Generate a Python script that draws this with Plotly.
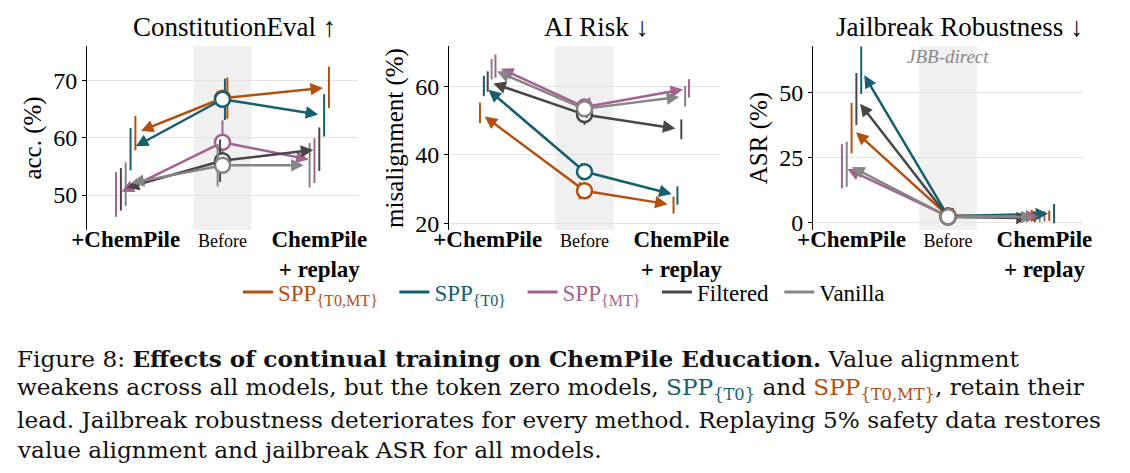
import numpy as np
import plotly.graph_objects as go

# stages on the x axis
stages = ["+ChemPile", "Before", "ChemPile + replay"]
methods = ["SPP{T0,MT}", "SPP{T0}", "SPP{MT}", "Filtered", "Vanilla"]

# ConstitutionEval (acc. %)
ce_chem = [60.8, 58.0, 50.1, 51.0, 51.9]
ce_before = [66.9, 66.7, 59.2, 56.0, 55.2]
ce_replay = [68.8, 63.9, 56.0, 58.0, 55.2]
ce_chem_err = [3.0, 3.7, 3.9, 3.7, 3.8]
ce_before_err = [3.6, 3.6, 3.8, 3.7, 3.7]
ce_replay_err = [3.6, 3.7, 3.9, 3.8, 3.9]

# AI Risk (misalignment %)
ai_chem = [52.3, 60.2, 66.0, 61.5, 65.1]
ai_before = [29.5, 35.1, 54.0, 51.8, 53.5]
ai_replay = [25.3, 28.1, 59.5, 47.5, 57.2]
ai_chem_err = [3.0, 3.0, 3.4, 3.0, 3.0]
ai_before_err = [2.5, 2.5, 2.8, 3.0, 2.8]
ai_replay_err = [2.5, 2.7, 2.7, 2.9, 3.0]

# Jailbreak robustness (ASR %)
jb_chem = [36.2, 58.5, 21.5, 47.4, 22.3]
jb_before = [2.5, 2.3, 2.2, 2.0, 2.1]
jb_replay = [2.5, 3.3, 2.3, 1.5, 2.0]
jb_chem_err = [9.7, 9.1, 8.5, 10.0, 8.7]
jb_before_err = [3.0, 2.0, 2.0, 2.0, 2.0]
jb_replay_err = [2.0, 3.7, 2.0, 1.5, 2.0]

colors = ["#b4500f", "#155f6e", "#a3638f", "#474747", "#858585"]
NB = "\u00a0"
legend_names = [
    "<span style='color:#b4500f'>SPP<sub>{T0,MT}</sub></span>" + NB * 2,
    "<span style='color:#155f6e'>SPP<sub>{T0}</sub></span>" + NB * 2,
    "<span style='color:#a3638f'>SPP<sub>{MT}</sub></span>" + NB * 2,
    "Filtered" + NB,
    "Vanilla",
]

panels = [
    dict(title="ConstitutionEval ↑", ytitle="acc. (%)", yrange=[43.9, 76.0], ticks=[50, 60, 70],
         chem=ce_chem, before=ce_before, replay=ce_replay,
         errs=(ce_chem_err, ce_before_err, ce_replay_err), step=0.05),
    dict(title="AI Risk ↓", ytitle="misalignment (%)", yrange=[18.0, 71.9], ticks=[20, 40, 60],
         chem=ai_chem, before=ai_before, replay=ai_replay,
         errs=(ai_chem_err, ai_before_err, ai_replay_err), step=0.04),
    dict(title="Jailbreak Robustness ↓", ytitle="ASR (%)", yrange=[-3.0, 67.8], ticks=[0, 25, 50],
         chem=jb_chem, before=jb_before, replay=jb_replay,
         errs=(jb_chem_err, jb_before_err, jb_replay_err), step=0.05),
]

W, H = 1130, 473
OFF = 8  # page body margin, the figure is drawn 8px right/down
FONT = "Liberation Serif"
x_domains = [(87, 358), (449, 720), (813, 1083)]
y_dom = [1 - (230 - OFF) / H, 1 - (46 - OFF) / H]
stage_pos = np.arange(len(stages))


def px_x(v):
    return (v - OFF) / W


def px_y(v):
    return 1 - (v - OFF) / H


def dodge(vals, step):
    # spread endpoints sideways, ordered by value
    r = np.argsort(np.argsort(vals))
    return (r - (len(vals) - 1) / 2) * step


fig = go.Figure()

for p, pan in enumerate(panels):
    sfx = "" if p == 0 else str(p + 1)
    xr, yr = "x" + sfx, "y" + sfx
    off_c = dodge(pan["chem"], pan["step"])
    off_b = dodge(pan["before"], 0.025)
    off_r = dodge(pan["replay"], pan["step"])

    # shaded "Before" band
    fig.add_shape(type="rect", xref=xr, yref=yr + " domain", x0=stage_pos[1] - 0.3, x1=stage_pos[1] + 0.3,
                  y0=0, y1=1, fillcolor="#f0f0f0", line_width=0, layer="below")

    for i, m in enumerate(methods):
        c = colors[i]
        xs = [stage_pos[0] + off_c[i], stage_pos[1] + off_b[i], stage_pos[2] + off_r[i]]
        ys = [pan["chem"][i], pan["before"][i], pan["replay"][i]]
        es = [pan["errs"][0][i], pan["errs"][1][i], pan["errs"][2][i]]
        fig.add_trace(go.Scatter(
            x=xs, y=ys, mode="markers", xaxis=xr, yaxis=yr, showlegend=False,
            marker=dict(size=1, opacity=0, color=c),
            error_y=dict(type="data", array=es, color=c, thickness=2, width=0),
            hoverinfo="skip"))

        # arrows from "Before" to the two continual-training results
        for k in (0, 2):
            fig.add_annotation(
                x=xs[k], y=ys[k], ax=stage_pos[1], ay=ys[1],
                xref=xr, yref=yr, axref=xr, ayref=yr, text="", showarrow=True,
                arrowhead=2, arrowsize=1.0, arrowwidth=2.5, arrowcolor=c,
                standoff=6, startstandoff=6)

        fig.add_trace(go.Scatter(
            x=[stage_pos[1]], y=[ys[1]], mode="markers", xaxis=xr, yaxis=yr, showlegend=False,
            marker=dict(size=15, color="white", line=dict(color=c, width=2.5)),
            hoverinfo="skip"))

    x0, x1 = x_domains[p]
    fig.update_layout(**{
        "xaxis" + sfx: dict(domain=[px_x(x0), px_x(x1)], anchor=yr, range=[-0.4, 2.4],
                            tickvals=list(stage_pos),
                            ticktext=["<b>+ChemPile</b>",
                                      "<span style='font-size:18px'>Before</span>",
                                      "<b>ChemPile<br>+ replay</b>"],
                            showgrid=False, zeroline=False, showline=False, ticks="",
                            automargin=False, ticklabelstandoff=-7,
                            tickfont=dict(family=FONT, size=23, color="black")),
        "yaxis" + sfx: dict(domain=y_dom, anchor=xr, range=pan["yrange"], tickvals=pan["ticks"],
                            showgrid=True, gridcolor="#e3e3e3", gridwidth=1, zeroline=False,
                            showline=True, linecolor="black", linewidth=1,
                            ticks="outside", ticklen=4, tickcolor="black", automargin=False,
                            tickfont=dict(family=FONT, size=24, color="black"),
                            title=dict(text=pan["ytitle"], standoff=4,
                                       font=dict(family=FONT, size=25, color="black"))),
    })

    fig.add_annotation(x=0.543, y=px_y(27), xref=xr + " domain", yref="paper",
                       text=pan["title"], showarrow=False, yanchor="middle",
                       font=dict(family=FONT, size=27, color="black"))

fig.add_annotation(x=stage_pos[1], y=px_y(57), xref="x3", yref="paper", text="<i>JBB-direct</i>",
                   showarrow=False, yanchor="middle", font=dict(family=FONT, size=19, color="#888888"))

# legend entries
for i, m in enumerate(methods):
    fig.add_trace(go.Scatter(x=[None], y=[None], mode="lines", name=legend_names[i],
                             line=dict(color=colors[i], width=3)))

# caption
CAP = "DejaVu Serif"
teal, orange = colors[1], colors[0]
caption = [
    "Figure 8: <b>Effects of continual training on ChemPile Education.</b> Value alignment",
    "weakens across all models, but the token zero models, "
    f"<span style='color:{teal}'>SPP<sub>{{T0}}</sub></span> and "
    f"<span style='color:{orange}'>SPP<sub>{{T0,MT}}</sub></span>, retain their",
    "lead. Jailbreak robustness deteriorates for every method. Replaying 5% safety data restores",
    "value alignment and jailbreak ASR for all models.",
]
cap_y = [358, 388, 419, 449]
for line, yy in zip(caption, cap_y):
    fig.add_annotation(x=px_x(15), y=px_y(yy), xref="paper", yref="paper", text=line,
                       showarrow=False, xanchor="left", yanchor="middle", align="left",
                       font=dict(family=CAP, size=23.2, color="#111111"))

fig.update_layout(
    width=W, height=H, margin=dict(l=0, r=0, t=0, b=0, autoexpand=False),
    paper_bgcolor="white", plot_bgcolor="white",
    showlegend=True,
    legend=dict(orientation="h", x=px_x(564), xanchor="center", y=px_y(292), yanchor="middle",
                font=dict(family=FONT, size=23, color="black"), itemwidth=30,
                bgcolor="rgba(0,0,0,0)"),
)

fig.write_html("out.html")
